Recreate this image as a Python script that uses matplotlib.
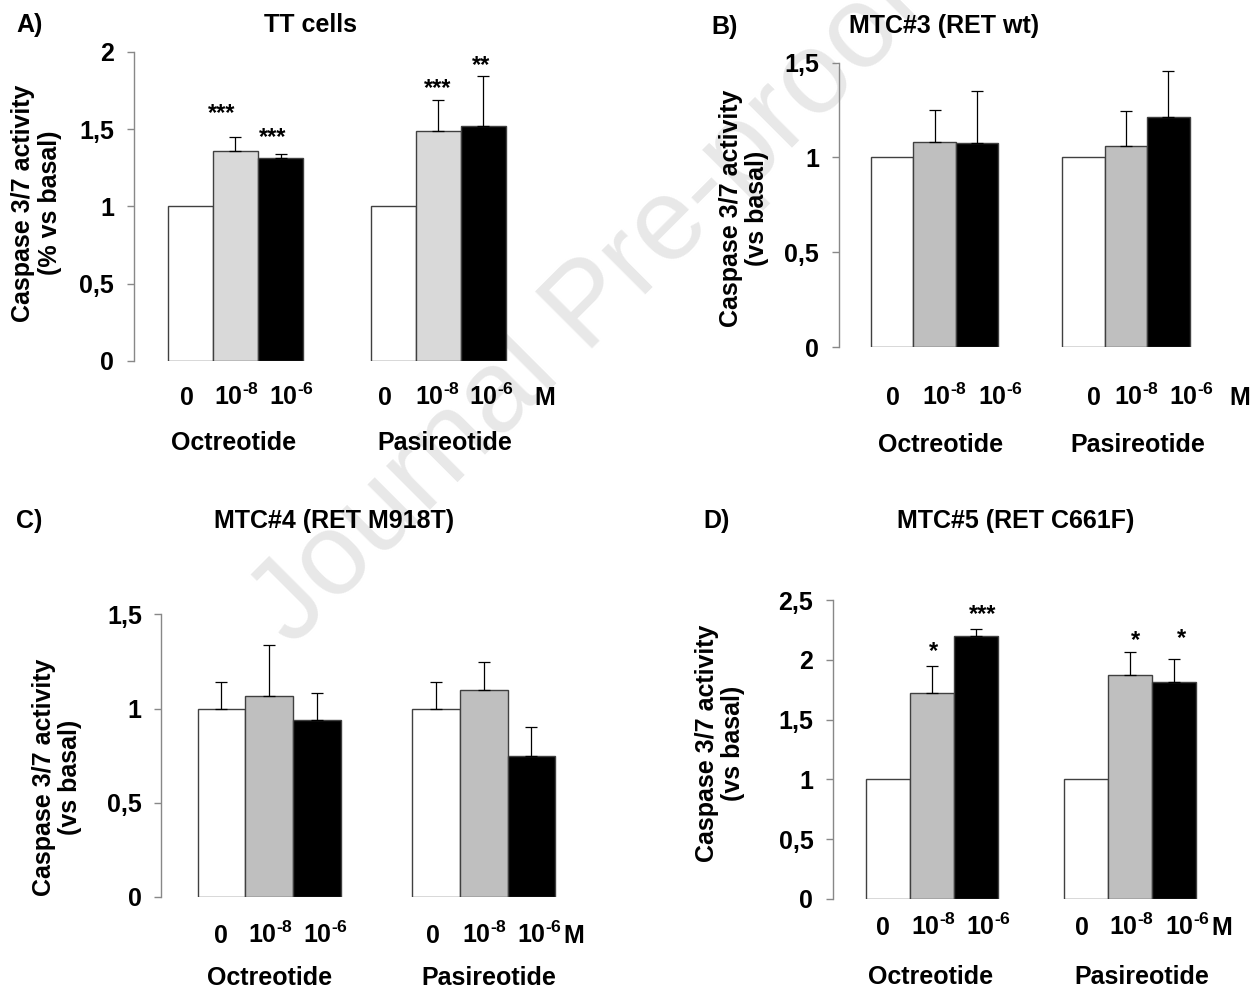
import matplotlib.pyplot as plt
import matplotlib.transforms as mtransforms

plt.rcParams['font.family'] = ['Liberation Sans', 'DejaVu Sans']
plt.rcParams['font.weight'] = 'bold'
plt.rcParams['mathtext.default'] = 'regular'

W, H = 1259, 991

# values
doses = ['0', '10$^{‐8}$', '10$^{‐6}$']
drugs = ['Octreotide', 'Pasireotide']
ylabel_a = 'Caspase 3/7 activity\n(% vs basal)'
ylabel_bcd = 'Caspase 3/7 activity\n(vs basal)'

tt_oct = [1.0, 1.355, 1.31]
tt_oct_err = [0, 0.095, 0.03]
tt_pas = [1.0, 1.49, 1.52]
tt_pas_err = [0, 0.20, 0.32]
tt_stars = [('***', 1, 1.65), ('***', 2, 1.49), ('***', 4, 1.81), ('**', 5, 1.96)]

mtc3_oct = [1.0, 1.08, 1.075]
mtc3_oct_err = [0, 0.17, 0.275]
mtc3_pas = [1.0, 1.06, 1.215]
mtc3_pas_err = [0, 0.185, 0.24]

mtc4_oct = [1.0, 1.065, 0.94]
mtc4_oct_err = [0.14, 0.27, 0.145]
mtc4_pas = [1.0, 1.097, 0.749]
mtc4_pas_err = [0.14, 0.15, 0.152]

mtc5_oct = [1.0, 1.72, 2.20]
mtc5_oct_err = [0, 0.225, 0.055]
mtc5_pas = [1.0, 1.876, 1.817]
mtc5_pas_err = [0, 0.19, 0.187]
mtc5_stars = [('*', 1, 2.13), ('***', 2, 2.44), ('*', 4, 2.22), ('*', 5, 2.24)]

ticks_2 = [0, 0.5, 1, 1.5, 2]
ticks_2_lab = ['0', '0,5', '1', '1,5', '2']
ticks_15 = [0, 0.5, 1, 1.5]
ticks_15_lab = ['0', '0,5', '1', '1,5']
ticks_25 = [0, 0.5, 1, 1.5, 2, 2.5]
ticks_25_lab = ['0', '0,5', '1', '1,5', '2', '2,5']

GAP = 1.5
XMIN, XMAX = -1.26, 7.4

fig = plt.figure(figsize=(W / 100, H / 100), dpi=100)

# watermark
fig.text(292 / W, 1 - 648 / H, 'Journal Pre-proof', rotation=45,
         rotation_mode='anchor', ha='left', va='baseline', fontsize=84,
         fontweight='normal', color='#e8e8e8', zorder=-5)


def panel(letter, title, lay, oct_v, oct_e, pas_v, pas_e, gray, ymax,
          yt, ytl, ylab, stars=None):
    ax_x, y0, ytop, w = lay['axis']
    ax = fig.add_axes([ax_x / W, 1 - y0 / H, (XMAX - XMIN) * w / W, (y0 - ytop) / H])
    ax.patch.set_visible(False)
    ax.set_xlim(XMIN, XMAX)
    ax.set_ylim(0, ymax)

    colors = ['white', gray, 'black']
    xs = [0, 1, 2, 3 + GAP, 4 + GAP, 5 + GAP]
    vals = oct_v + pas_v
    errs = oct_e + pas_e
    ax.bar(xs, vals, width=1.0, color=colors * 2, edgecolor='#404040',
           linewidth=1.0, zorder=2)
    for x, v, e in zip(xs, vals, errs):
        if e > 0:
            ax.errorbar([x], [v], yerr=[[0], [e]], fmt='none', ecolor='black',
                        elinewidth=0.9, capsize=4, capthick=0.9, zorder=3)

    for s in ['top', 'right', 'bottom']:
        ax.spines[s].set_visible(False)
    ax.spines['left'].set_color('#888888')
    ax.spines['left'].set_linewidth(1.0)
    ax.set_xticks([])
    ax.set_yticks(yt)
    ax.set_yticklabels(ytl)
    ax.tick_params(axis='y', direction='out', length=5, width=1,
                   color='#888888', pad=9, labelsize=18)

    tr = mtransforms.blended_transform_factory(ax.transData, fig.transFigure)
    tick_y = 1 - lay['tick_base'] / H
    for xp, lab in zip(lay['tick_x'], doses + doses):
        ax.text(xp, tick_y, lab, transform=tr, ha='center', va='baseline',
                fontsize=18, clip_on=False)
    ax.text(lay['m_x'], tick_y, 'M', transform=tr, ha='center', va='baseline',
            fontsize=18, clip_on=False)
    cat_y = 1 - lay['cat_base'] / H
    for xp, lab in zip(lay['cat_x'], drugs):
        ax.text(xp, cat_y, lab, transform=tr, ha='center', va='baseline',
                fontsize=18, clip_on=False)

    if stars:
        for (s, i, yv), dx in zip(stars, lay['star_dx']):
            ax.annotate(s, (xs[i] + dx, yv), xytext=(0, -10),
                        textcoords='offset points', ha='center', va='baseline',
                        fontsize=17, annotation_clip=False)

    lx, lb = lay['letter']
    fig.text(lx / W, 1 - lb / H, letter, ha='left', va='baseline', fontsize=18)
    tx, tb = lay['title']
    fig.text(tx / W, 1 - tb / H, title, ha='center', va='baseline', fontsize=18)
    yx, yy = lay['ylab']
    fig.text(yx / W, 1 - yy / H, ylab, rotation=90, ha='center', va='center',
             multialignment='center', linespacing=1.15, fontsize=18)


lay_a = dict(axis=(133.5, 361, 51.7, 45.1), tick_base=405, cat_base=450,
             tick_x=[-0.07, 1.03, 2.25, 4.32, 5.49, 6.67], m_x=7.86,
             cat_x=[0.95, 5.64], star_dx=[-0.30, -0.17, -0.01, -0.06],
             letter=(16, 32), title=(311, 32), ylab=(36.5, 203))
lay_b = dict(axis=(838.6, 347, 62.7, 42.5), tick_base=405, cat_base=452,
             tick_x=[0.03, 1.24, 2.54, 4.75, 5.75, 7.05], m_x=8.18,
             cat_x=[1.15, 5.77], letter=(711, 34), title=(944, 33),
             ylab=(744, 208))
lay_c = dict(axis=(161.3, 897, 614.3, 47.7), tick_base=943, cat_base=985,
             tick_x=[-0.02, 1.04, 2.19, 4.44, 5.52, 6.67], m_x=7.39,
             cat_x=[1.01, 5.60], letter=(16, 528), title=(334, 528),
             ylab=(57, 777))
lay_d = dict(axis=(832.7, 899, 600, 44.0), tick_base=935, cat_base=984,
             tick_x=[-0.12, 1.02, 2.28, 4.40, 5.54, 6.81], m_x=7.59,
             cat_x=[0.97, 5.76], star_dx=[0.03, 0.14, 0.12, 0.16],
             letter=(703, 528), title=(1016, 528), ylab=(720, 743))

panel('A)', 'TT cells', lay_a, tt_oct, tt_oct_err, tt_pas, tt_pas_err,
      '#d9d9d9', 2, ticks_2, ticks_2_lab, ylabel_a, tt_stars)
panel('B)', 'MTC#3 (RET wt)', lay_b, mtc3_oct, mtc3_oct_err, mtc3_pas,
      mtc3_pas_err, '#bfbfbf', 1.5, ticks_15, ticks_15_lab, ylabel_bcd)
panel('C)', 'MTC#4 (RET M918T)', lay_c, mtc4_oct, mtc4_oct_err, mtc4_pas,
      mtc4_pas_err, '#bfbfbf', 1.5, ticks_15, ticks_15_lab, ylabel_bcd)
panel('D)', 'MTC#5 (RET C661F)', lay_d, mtc5_oct, mtc5_oct_err, mtc5_pas,
      mtc5_pas_err, '#bfbfbf', 2.5, ticks_25, ticks_25_lab, ylabel_bcd,
      mtc5_stars)

fig.savefig('out.png', dpi=100)
